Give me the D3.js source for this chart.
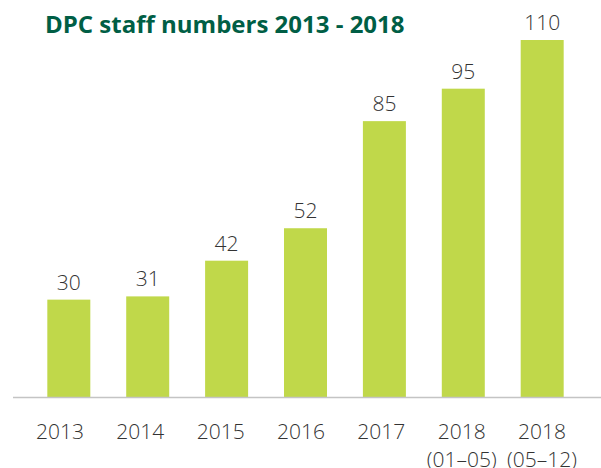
<!DOCTYPE html>
<html>
<head>
<meta charset="utf-8">
<script src="https://cdn.jsdelivr.net/npm/d3@7"></script>
<style>
  body { margin: 0; background: #fff; }
  text { font-family: "Open Sans", sans-serif; }
</style>
</head>
<body>
<div class="canvas"></div>
<script>
// chart data
var years = ['2013', '2014', '2015', '2016', '2017', '2018', '2018'];
var periods = ['', '', '', '', '', '(01\u201305)', '(05\u201312)'];
var staff = [30, 31, 42, 52, 85, 95, 110];

var pageWidth = 601,
    pageHeight = 468;
var margins = {t:40, r:17, b:71, l:27};
var plotWidth = pageWidth - margins.l - margins.r,
    plotHeight = pageHeight - margins.t - margins.b;

var svg = d3.select('.canvas')
    .append('svg')
    .attr('width', pageWidth)
    .attr('height', pageHeight);

var plot = svg.append('g')
    .attr('transform', 'translate(' + margins.l + ',' + margins.t + ')');

var idx = d3.range(staff.length);

var x = d3.scaleBand()
    .domain(idx)
    .range([0, plotWidth])
    .paddingInner(0.455)
    .paddingOuter(0.5 * 0.455 + 0.03);

// labels under the axis sit on a slightly wider spacing than the bars
var xLabel = d3.scalePoint()
    .domain(idx)
    .range([59.5 - margins.l, 541.5 - margins.l]);

var y = d3.scaleLinear()
    .domain([0, 110])
    .range([plotHeight, 0]);

// title
svg.append('text')
    .attr('x', 45)
    .attr('y', 33)
    .style('font-size', '24px')
    .style('font-weight', 700)
    .style('fill', '#005e45')
    .text('DPC staff numbers 2013 - 2018');

// bars
plot.selectAll('rect.bar')
    .data(idx)
    .enter()
    .append('rect')
    .attr('class', 'bar')
    .attr('x', function(i){ return x(i); })
    .attr('width', x.bandwidth())
    .attr('y', function(i){ return y(staff[i]); })
    .attr('height', function(i){ return plotHeight - y(staff[i]); })
    .style('fill', '#c0d84a');

// value labels
plot.selectAll('text.value')
    .data(idx)
    .enter()
    .append('text')
    .attr('class', 'value')
    .attr('x', function(i){ return x(i) + x.bandwidth() / 2; })
    .attr('y', function(i){ return y(staff[i]) - 10; })
    .attr('text-anchor', 'middle')
    .style('font-size', '21px')
    .style('font-weight', 300)
    .style('fill', '#333')
    .text(function(i){ return staff[i]; });

// baseline
svg.append('line')
    .attr('x1', 13)
    .attr('x2', pageWidth)
    .attr('y1', margins.t + plotHeight + 0.5)
    .attr('y2', margins.t + plotHeight + 0.5)
    .style('stroke', '#c4c4c4')
    .style('stroke-width', 1.5);

// category labels (two lines)
var xAxis = d3.axisBottom(xLabel).tickSize(0).tickFormat(function(i){ return years[i]; });
var axisG = plot.append('g')
    .attr('transform', 'translate(0,' + plotHeight + ')')
    .call(xAxis);
axisG.select('.domain').remove();
axisG.selectAll('text')
    .attr('y', 0)
    .attr('dy', null)
    .style('font-size', '21px')
    .style('font-weight', 300)
    .style('font-family', '"Open Sans", sans-serif')
    .style('fill', '#333')
    .each(function(i){
        var t = d3.select(this);
        t.text(null);
        t.append('tspan').attr('x', 0).attr('y', 42).text(years[i]);
        if (periods[i]) t.append('tspan').attr('x', 0).attr('y', 70).text(periods[i]);
    });
</script>
</body>
</html>
